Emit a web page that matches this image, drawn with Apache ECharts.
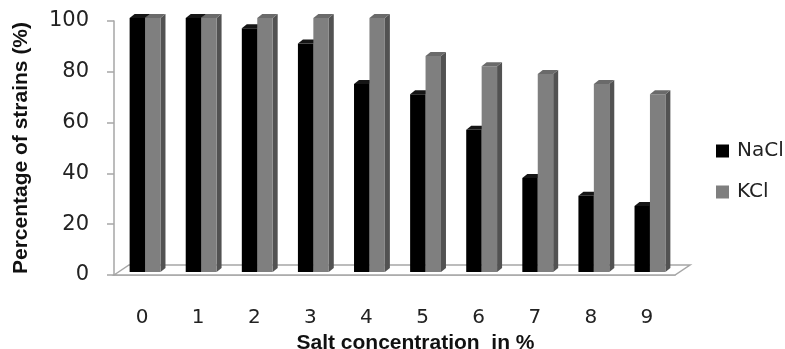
<!DOCTYPE html>
<html>
<head>
<meta charset="utf-8">
<script src="https://cdn.jsdelivr.net/npm/echarts@6/dist/echarts.min.js"></script>
<style>
html,body{margin:0;padding:0;background:#fff;}
#chart{width:785px;height:349px;}
</style>
</head>
<body>
<div id="chart"></div>
<script>
var categories = ['0','1','2','3','4','5','6','7','8','9'];
var seriesNames = ['NaCl','KCl'];
var nacl = [100,100,96,90,74,70,56,37,30,26];
var kcl = [100,100,100,100,100,85,81,78,74,70];
var yTicks = [0,20,40,60,80,100];

var faceColors = [
  {front:'#000000', side:'#0a0a0a', top:'#151515'},
  {front:'#7f7f7f', side:'#525252', top:'#6a6a6a'}
];

function makeBarRender(sIdx){
  return function(params, api){
    var idx = api.value(0);
    var val = api.value(1);
    var band = api.size([1,0])[0];
    var barW = band*0.275;
    var shiftX = 3, shiftY = -3;
    var dx = 5, dy = -4;
    var c = api.coord([idx, val]);
    var b = api.coord([idx, 0]);
    var x0 = c[0] - barW + sIdx*barW + shiftX;
    var top = c[1] + shiftY;
    var bot = b[1] + shiftY;
    var col = faceColors[sIdx];
    return {
      type:'group',
      children:[
        {type:'polygon', shape:{points:[[x0+barW,top],[x0+barW+dx,top+dy],[x0+barW+dx,bot+dy],[x0+barW,bot]]}, style:{fill:col.side}},
        {type:'rect', shape:{x:x0, y:top, width:barW, height:bot-top}, style:{fill:col.front}},
        {type:'polygon', shape:{points:[[x0,top],[x0+dx,top+dy],[x0+barW+dx,top+dy],[x0+barW,top]]}, style:{fill:col.top}}
      ]
    };
  };
}

function floorRender(params, api){
  var cs = params.coordSys;
  var fx0 = cs.x, fx1 = cs.x + cs.width, fy = cs.y + cs.height;
  var ddx = 15, ddy = -10;
  return {
    type:'polygon',
    shape:{points:[[fx0,fy],[fx0+ddx,fy+ddy],[fx1+ddx,fy+ddy],[fx1,fy]]},
    style:{fill:'#ffffff', stroke:'#a6a6a6', lineWidth:1.5},
    z2:0
  };
}

var chart = echarts.init(document.getElementById('chart'));
chart.setOption({
  animation:false,
  backgroundColor:'#ffffff',
  grid:{left:114, right:110, top:21, bottom:74, containLabel:false, outerBoundsMode:'none'},
  legend:{
    orient:'vertical',
    left:711, top:136,
    itemWidth:13, itemHeight:13, itemGap:21,
    icon:'rect',
    textStyle:{fontFamily:'DejaVu Sans', fontSize:20, color:'#222', padding:[0,0,0,3]},
    data:[{name:'NaCl', itemStyle:{color:'#000'}},{name:'KCl', itemStyle:{color:'#7f7f7f'}}]
  },
  xAxis:{
    type:'category',
    data:categories,
    name:'Salt concentration  in %',
    nameLocation:'middle',
    nameGap:51,
    nameTextStyle:{fontFamily:'Liberation Sans', fontWeight:'bold', fontSize:21, color:'#111', padding:[0,0,0,42]},
    axisLine:{lineStyle:{color:'#a6a6a6', width:1.5}},
    axisTick:{length:8, lineStyle:{color:'#a6a6a6', width:1.5}},
    axisLabel:{margin:33, fontFamily:'DejaVu Sans', fontSize:20, color:'#222'}
  },
  yAxis:{
    type:'value',
    min:yTicks[0], max:yTicks[yTicks.length-1], interval:20,
    name:'Percentage of strains (%)',
    nameLocation:'middle',
    nameGap:82,
    nameTextStyle:{fontFamily:'Liberation Sans', fontWeight:'bold', fontSize:21, color:'#111'},
    axisLine:{show:true, lineStyle:{color:'#a6a6a6', width:1.5}},
    axisTick:{show:true, length:7, lineStyle:{color:'#a6a6a6', width:1.5}},
    splitLine:{show:false},
    axisLabel:{margin:25, fontFamily:'DejaVu Sans', fontSize:21, color:'#222'}
  },
  series:[
    {type:'custom', name:'floor', renderItem:floorRender, data:[[0,0]], z:1, silent:true, legendHoverLink:false, tooltip:{show:false}},
    {type:'custom', name:seriesNames[0], renderItem:makeBarRender(0), data:nacl.map(function(v,i){return [i,v];}), z:3, itemStyle:{color:'#000'}},
    {type:'custom', name:seriesNames[1], renderItem:makeBarRender(1), data:kcl.map(function(v,i){return [i,v];}), z:4, itemStyle:{color:'#7f7f7f'}}
  ]
});
</script>
</body>
</html>
